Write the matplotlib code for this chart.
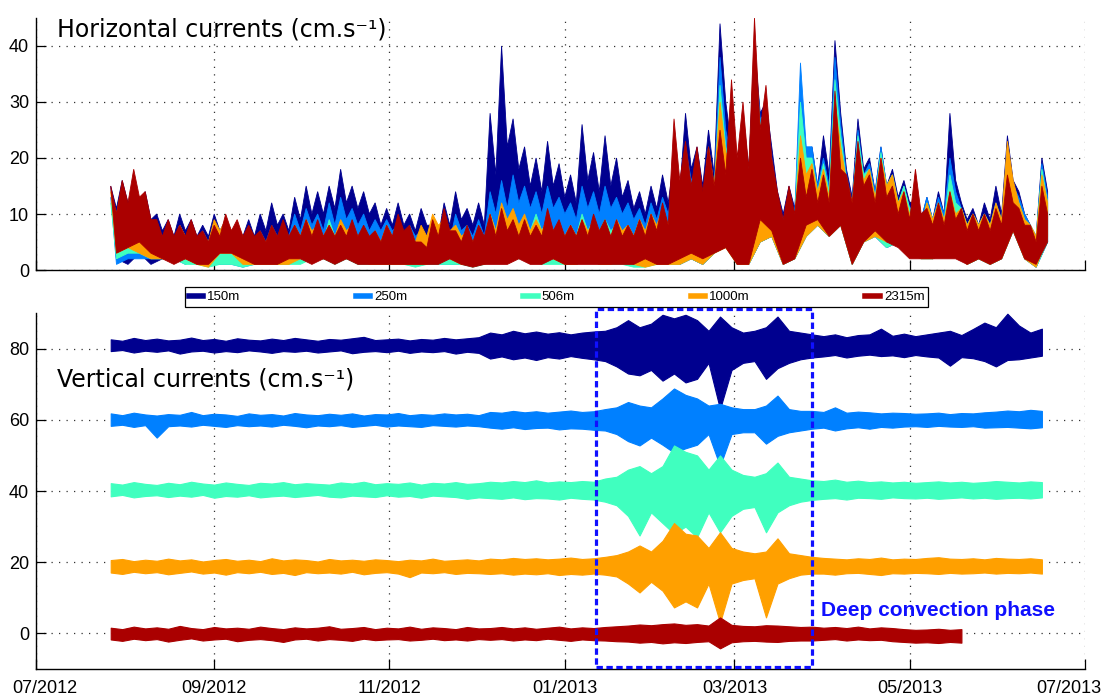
import numpy as np
import matplotlib
matplotlib.use('Agg')
import matplotlib.pyplot as plt
import matplotlib.dates as mdates
import matplotlib.transforms as mtransforms
from matplotlib.patches import Rectangle
from matplotlib.lines import Line2D

depths = ['150m', '250m', '506m', '1000m', '2315m']
colors = ['#00008F', '#0080FF', '#40FFBF', '#FFA000', '#AA0000']

# mooring record, summarised in 4-day windows from 27 Jul 2012
start = np.datetime64('2012-07-27')

# horizontal current speed (cm/s): window peak, top of the dense band, window low
h150_hi = [15, 16, 14, 14, 10, 9, 10, 9, 8, 10,
           9, 8, 9, 10, 12, 10, 13, 15, 14, 15,
           18, 15, 14, 12, 11, 12, 10, 11, 8, 12,
           14, 11, 12, 28, 40, 27, 22, 20, 23, 19,
           17, 26, 21, 24, 20, 16, 14, 15, 17, 20,
           28, 22, 25, 44, 22, 28, 40, 30, 14, 15,
           25, 22, 24, 41, 18, 27, 20, 22, 18, 16,
           12, 13, 14, 28, 12, 11, 12, 15, 24, 14,
           8, 20]
h150_mid = [11, 12, 11, 9, 7, 6, 7, 6, 6, 7,
            6, 6, 6, 7, 8, 7, 9, 10, 10, 11,
            12, 11, 10, 8, 8, 8, 7, 8, 6, 8,
            9, 8, 8, 17, 22, 18, 15, 14, 15, 13,
            12, 16, 14, 15, 13, 11, 10, 11, 12, 14,
            18, 15, 17, 30, 15, 18, 28, 22, 10, 11,
            17, 15, 17, 28, 13, 18, 14, 15, 13, 12,
            9, 9, 10, 16, 9, 8, 9, 10, 16, 10,
            6, 14]
h150_lo = [2, 1, 3, 1, 2, 3, 2, 3, 2, 1,
           2, 1, 2, 1, 2, 2, 2, 3, 2, 3,
           2, 3, 2, 1, 1, 2, 1, 1, 2, 2,
           1, 1, 1, 3, 4, 4, 3, 2, 2, 2,
           1, 2, 2, 1, 2, 2, 1, 1, 2, 1,
           2, 1, 3, 5, 1, 1, 5, 6, 1, 2,
           6, 8, 6, 8, 1, 5, 6, 4, 5, 4,
           3, 2, 3, 4, 1, 2, 1, 2, 7, 2,
           0.5, 5]
h250_hi = [13, 15, 12, 11, 8, 7, 8, 7, 7, 8,
           7, 6, 7, 7, 8, 8, 10, 11, 10, 12,
           13, 11, 10, 9, 9, 8, 8, 7, 9, 7,
           10, 8, 9, 14, 16, 17, 15, 14, 15, 13,
           12, 15, 14, 15, 13, 12, 11, 12, 13, 16,
           22, 18, 20, 38, 20, 25, 40, 28, 12, 13,
           37, 22, 20, 38, 17, 25, 19, 22, 17, 15,
           12, 13, 13, 20, 11, 10, 10, 12, 22, 13,
           8, 19]
h250_mid = [9, 10, 9, 8, 6, 5, 6, 5, 5, 6,
            5, 5, 5, 5, 6, 6, 7, 8, 7, 8,
            9, 8, 7, 7, 7, 6, 6, 5, 6, 5,
            7, 6, 6, 10, 11, 12, 11, 10, 11, 10,
            9, 11, 10, 11, 10, 9, 8, 9, 10, 12,
            16, 13, 15, 25, 14, 18, 27, 20, 9, 10,
            22, 15, 15, 26, 12, 17, 14, 15, 12, 11,
            9, 9, 10, 14, 8, 8, 8, 9, 15, 10,
            6, 13]
h250_lo = [1, 2, 2, 2, 2, 2, 1, 2, 1, 1,
           1, 0.5, 1, 2, 1, 1, 2, 2, 2, 2,
           2, 2, 1, 1, 1, 1, 1, 1, 1, 1,
           1, 1, 1, 2, 2, 3, 2, 2, 2, 1,
           1, 2, 1, 1, 2, 1, 1, 1, 1, 1,
           2, 1, 3, 5, 1, 1, 5, 6, 1, 2,
           6, 8, 6, 8, 1, 5, 6, 4, 5, 3,
           2, 2, 3, 3, 1, 2, 1, 2, 7, 2,
           0.5, 5]
h506_hi = [12, 13, 11, 9, 7, 6, 7, 6, 5, 6,
           7, 6, 6, 5, 6, 6, 7, 8, 7, 9,
           8, 7, 7, 6, 7, 6, 7, 6, 7, 6,
           8, 6, 7, 10, 11, 10, 9, 10, 9, 8,
           8, 10, 9, 9, 8, 8, 9, 9, 10, 14,
           20, 16, 19, 33, 18, 24, 38, 27, 11, 12,
           30, 20, 19, 34, 16, 24, 18, 21, 17, 15,
           11, 12, 12, 17, 11, 10, 10, 11, 21, 12,
           8, 18]
h506_mid = [8, 9, 8, 7, 5, 5, 5, 5, 4, 5,
            5, 5, 5, 4, 5, 5, 5, 6, 5, 6,
            6, 5, 5, 5, 5, 5, 5, 5, 5, 5,
            6, 5, 5, 7, 8, 7, 7, 7, 7, 6,
            6, 7, 7, 7, 6, 6, 6, 7, 7, 10,
            14, 12, 14, 22, 13, 17, 26, 19, 8, 9,
            20, 14, 14, 24, 12, 17, 13, 15, 12, 11,
            8, 9, 9, 12, 8, 8, 8, 8, 15, 9,
            6, 12]
h506_lo = [2, 3, 3, 2, 2, 2, 1, 1, 0.5, 1,
           1, 0.5, 1, 1, 1, 1, 1, 2, 2, 1,
           2, 1, 1, 1, 1, 1, 0.5, 1, 1, 1,
           1, 0.5, 1, 2, 2, 2, 2, 1, 1, 1,
           1, 2, 1, 1, 1, 0.5, 0.5, 1, 1, 1,
           2, 1, 3, 4, 1, 1, 5, 6, 1, 2,
           6, 8, 6, 8, 1, 5, 6, 4, 5, 3,
           2, 2, 3, 3, 1, 2, 1, 2, 7, 2,
           0.5, 5]
h1000_hi = [14, 15, 13, 10, 7, 7, 8, 7, 6, 9,
            9, 8, 6, 6, 7, 7, 8, 9, 8, 8,
            9, 8, 7, 7, 8, 7, 6, 8, 10, 9,
            8, 7, 6, 10, 12, 11, 10, 9, 9, 8,
            8, 9, 8, 8, 9, 8, 9, 10, 11, 14,
            20, 17, 22, 30, 19, 24, 36, 26, 11, 12,
            24, 19, 18, 30, 16, 22, 18, 20, 17, 14,
            11, 12, 12, 14, 11, 10, 10, 12, 23, 12,
            8, 17]
h1000_mid = [10, 11, 10, 8, 5, 5, 6, 5, 5, 7,
             7, 6, 5, 5, 5, 5, 6, 7, 6, 6,
             7, 6, 5, 5, 6, 5, 5, 6, 8, 7,
             6, 5, 5, 7, 9, 8, 7, 7, 7, 6,
             6, 7, 6, 6, 7, 6, 7, 8, 8, 10,
             14, 12, 15, 21, 14, 17, 25, 19, 8, 9,
             17, 14, 13, 22, 12, 16, 13, 15, 12, 10,
             8, 9, 9, 10, 8, 8, 8, 9, 16, 9,
             6, 12]
h1000_lo = [3, 4, 3, 2, 2, 2, 2, 1, 0.5, 3,
            3, 1, 1, 1, 1, 1, 2, 2, 2, 2,
            2, 2, 1, 1, 1, 1, 1, 1, 2, 2,
            1, 1, 1, 3, 3, 3, 2, 2, 2, 1,
            1, 2, 1, 1, 2, 1, 0.5, 1, 1, 1,
            2, 1, 3, 4, 1, 1, 5, 6, 1, 2,
            6, 8, 6, 8, 1, 5, 6, 5, 5, 3,
            2, 2, 3, 3, 1, 2, 1, 2, 7, 2,
            0.5, 6]
h2315_hi = [15, 16, 18, 14, 9, 9, 8, 9, 7, 8,
            10, 9, 8, 7, 8, 9, 8, 9, 9, 8,
            8, 9, 8, 7, 8, 10, 8, 5, 9, 11,
            7, 8, 8, 10, 11, 9, 9, 8, 11, 9,
            8, 9, 10, 9, 9, 8, 9, 10, 12, 27,
            23, 22, 22, 25, 34, 30, 45, 33, 14, 15,
            20, 18, 17, 32, 17, 23, 17, 20, 15, 14,
            18, 11, 12, 14, 11, 10, 10, 11, 17, 11,
            8, 15]
h2315_mid = [10, 12, 13, 9, 6, 6, 6, 6, 5, 6,
             7, 6, 6, 5, 6, 6, 6, 6, 6, 6,
             6, 6, 6, 5, 6, 7, 5, 4, 6, 7,
             5, 5, 6, 6, 7, 6, 6, 6, 7, 6,
             6, 6, 7, 6, 6, 6, 6, 7, 8, 16,
             15, 14, 15, 17, 20, 18, 25, 20, 9, 10,
             13, 12, 12, 18, 12, 15, 12, 13, 10, 9,
             10, 8, 8, 9, 7, 7, 7, 8, 12, 8,
             5, 10]
h2315_lo = [3, 4, 5, 3, 2, 1, 2, 1, 1, 3,
            3, 2, 1, 1, 1, 2, 2, 1, 2, 1,
            2, 1, 1, 1, 1, 1, 1, 1, 1, 2,
            1, 0.5, 1, 1, 1, 2, 1, 1, 2, 1,
            1, 1, 1, 1, 1, 1, 2, 1, 1, 2,
            3, 2, 3, 4, 1, 1, 9, 7, 1, 2,
            8, 9, 6, 8, 1, 5, 7, 5, 4, 2,
            2, 2, 2, 2, 1, 2, 1, 2, 7, 2,
            1, 5]

# vertical current (cm/s), each depth shifted by 80/60/40/20/0
v150_hi = [82.6, 82.2, 83.0, 82.4, 82.8, 82.3, 82.5, 83.1, 82.4, 82.7,
           82.2, 82.9, 82.5, 82.3, 82.8, 82.4, 83.0, 82.6, 82.2, 82.7,
           82.5, 82.9, 83.3, 82.4, 82.6, 82.8, 82.3, 82.7, 82.5, 83.0,
           82.6, 82.9, 83.2, 84.5, 84.0, 85.0, 84.3, 84.8, 84.2, 84.6,
           84.0, 84.5, 84.8, 85.0, 86.0, 88.0, 86.0, 87.0, 89.5, 88.5,
           89.5, 88.0, 85.0, 89.0, 86.0, 84.5, 85.0, 86.0, 89.0, 85.0,
           84.5, 84.0, 83.5, 84.0, 83.2, 83.8, 84.0, 85.6, 83.6, 84.2,
           83.5, 84.0, 84.5, 85.0, 83.8, 85.5, 87.3, 86.0, 89.8, 86.5,
           84.5, 85.6]
v150_lo = [79.3, 79.6, 78.9, 79.4, 79.1, 79.5, 78.6, 79.2, 79.4, 78.9,
           79.3, 79.0, 79.5, 79.2, 78.8, 79.3, 79.1, 79.4, 78.9, 79.2,
           79.5, 78.7, 79.1, 79.3, 79.0, 79.4, 78.8, 79.2, 79.0, 79.3,
           78.6, 79.1, 78.8, 77.2, 77.8, 77.0, 77.5, 76.8, 77.6, 77.2,
           77.9, 77.4, 77.0, 76.5, 75.0, 73.0, 72.5, 74.0, 71.0, 73.0,
           70.5, 71.5, 76.0, 63.0, 74.0, 76.0, 76.5, 71.5, 74.5, 76.0,
           77.0, 77.5, 77.8, 78.2, 77.5, 78.0, 78.3, 77.9, 78.1, 77.6,
           78.2, 77.8, 77.5, 75.2, 77.6, 77.3, 76.5, 75.0, 76.8, 77.0,
           77.5, 78.0]
v250_hi = [61.8, 61.3, 62.0, 61.5, 61.2, 61.6, 61.4, 62.2, 61.3, 61.7,
           61.5, 61.1, 61.8, 61.4, 61.6, 61.2, 61.9, 61.5, 61.3, 61.7,
           61.4, 61.8, 61.2, 61.6, 61.5, 61.9, 61.3, 61.6, 61.4, 61.8,
           61.5, 61.7, 61.3, 62.2, 62.0, 62.5, 62.1, 62.4, 62.0, 62.3,
           62.6, 62.2, 62.4, 63.0, 63.5, 65.0, 64.0, 63.5, 66.0, 68.8,
           67.0, 66.0, 64.0, 64.5, 63.5, 63.0, 63.0, 64.0, 66.8, 63.0,
           62.5, 62.5, 62.2, 63.5, 62.0, 62.3, 62.1, 61.8, 62.0, 61.9,
           61.7, 61.8, 62.0, 61.6, 61.9, 61.8, 62.1, 62.3, 62.6, 62.4,
           62.8, 62.5]
v250_lo = [58.3, 58.6, 58.0, 58.5, 55.0, 58.2, 58.4, 58.1, 58.6, 58.3,
           58.0, 58.5, 58.2, 58.4, 58.1, 58.6, 58.3, 57.9, 58.4, 58.2,
           58.5, 58.0, 58.3, 58.6, 58.1, 58.4, 58.2, 58.0, 58.5, 58.3,
           58.1, 58.4, 58.2, 57.8, 57.5, 57.9, 57.4, 57.7, 57.8, 57.3,
           57.6, 57.5, 57.2, 57.0, 56.0, 54.0, 52.8, 55.0, 53.0, 50.8,
           52.0, 53.0, 56.0, 47.0, 56.0, 56.5, 56.5, 53.3, 55.5, 56.5,
           57.0, 57.5, 57.8, 57.0, 57.6, 57.9, 57.5, 58.0, 57.8, 58.1,
           58.2, 58.0, 58.3, 58.1, 58.0, 58.2, 57.8, 57.9, 58.0, 57.8,
           57.6, 57.9]
v506_hi = [42.2, 41.8, 42.5, 42.0, 41.7, 42.3, 41.9, 42.6, 42.1, 41.8,
           42.4, 42.0, 41.7, 42.3, 42.1, 42.5, 41.9, 42.2, 42.0, 41.8,
           42.4, 42.1, 42.6, 41.9, 42.2, 42.0, 42.4, 41.8, 42.3, 42.1,
           42.5, 42.0, 42.2, 42.6, 42.4, 42.8, 42.5, 43.0, 42.4, 42.7,
           42.5, 42.8, 42.6, 43.5, 44.0, 46.0, 47.0, 45.0, 47.0, 52.8,
           51.0, 50.0, 46.0, 50.0, 46.0, 44.5, 44.0, 45.0, 48.0, 44.0,
           43.5, 43.0, 42.8, 43.2, 42.6, 42.9, 42.5, 42.7, 42.4, 42.6,
           42.3, 42.5, 42.7, 42.4, 42.6, 42.3, 42.5, 42.8, 42.6, 42.4,
           42.7, 42.5]
v506_lo = [38.5, 38.9, 38.2, 38.6, 38.8, 38.3, 38.7, 38.4, 38.9, 38.1,
           38.6, 38.4, 38.8, 38.2, 38.5, 38.7, 38.3, 38.6, 38.9, 38.4,
           38.2, 38.7, 38.5, 38.3, 38.8, 38.4, 38.6, 38.1, 38.7, 38.5,
           38.3, 37.8, 38.2, 38.0, 37.8, 38.2, 37.7, 38.0, 37.9, 37.6,
           38.1, 37.8, 37.6, 37.0, 36.0, 33.0, 27.5, 34.0, 31.0, 28.0,
           30.0, 27.0, 34.0, 28.4, 33.0, 35.0, 35.5, 28.4, 34.0, 36.0,
           37.0, 37.5, 37.8, 38.0, 37.6, 38.1, 38.0, 37.8, 38.2, 38.0,
           37.9, 38.1, 37.8, 38.0, 38.2, 37.9, 38.1, 37.8, 38.0, 38.1,
           37.9, 38.2]
v1000_hi = [20.6, 20.9, 20.3, 20.7, 20.4, 21.0, 20.5, 20.8, 20.2, 20.6,
            20.9, 20.4, 20.7, 20.3, 21.1, 20.5, 20.8, 20.6, 20.2, 20.9,
            20.5, 20.7, 20.4, 20.8, 20.6, 20.3, 20.7, 20.5, 21.0, 20.4,
            20.6, 20.8, 20.5, 21.0, 20.8, 21.2, 20.9, 21.1, 20.8, 21.0,
            21.3, 20.9, 21.1, 21.5, 22.0, 23.0, 24.7, 23.0, 26.0, 31.0,
            28.0, 27.5, 24.0, 28.4, 24.0, 23.0, 22.5, 23.0, 26.7, 22.5,
            22.0, 21.5, 21.2, 21.0, 20.8, 21.1, 20.9, 21.3, 20.8, 21.0,
            20.9, 21.2, 21.4, 21.0, 20.9, 21.1, 20.8, 21.2, 21.0, 20.9,
            21.1, 20.8]
v1000_lo = [17.1, 16.7, 17.3, 16.9, 17.2, 16.6, 17.0, 17.4, 16.8, 17.1,
            16.5, 17.2, 16.9, 17.3, 16.7, 17.0, 16.4, 17.2, 16.9, 17.1,
            16.8, 17.3, 16.6, 17.0, 17.2, 16.8, 15.8, 17.1, 16.9, 17.2,
            16.7, 17.0, 16.9, 16.7, 16.9, 16.5, 16.8, 16.6, 16.9, 16.4,
            16.7, 16.5, 16.8, 16.5, 16.0, 14.0, 11.5, 14.5, 12.0, 7.3,
            9.0, 7.3, 14.0, 3.0, 14.0, 15.0, 15.5, 4.5, 14.0, 15.5,
            16.5, 16.8, 16.8, 16.5, 16.9, 17.0, 16.7, 16.4, 16.9, 16.8,
            17.0, 16.9, 16.7, 17.0, 16.8, 16.9, 17.1, 16.8, 17.0, 16.9,
            17.1, 16.8]
v2315_hi = [1.6, 1.2, 1.9, 1.4, 1.7, 1.3, 2.1, 1.5, 1.2, 1.8,
            1.4, 1.6, 1.3, 1.9, 1.5, 1.2, 1.7, 1.4, 1.6, 2.0,
            1.3, 1.5, 1.8, 1.2, 1.6, 1.4, 1.9, 1.3, 1.7, 1.5,
            1.2, 1.8, 1.4, 1.5, 1.8, 1.4, 1.7, 1.3, 1.6, 1.9,
            1.4, 1.7, 1.5, 1.8, 2.0, 2.2, 2.5, 2.3, 2.6, 2.8,
            2.4, 2.6, 2.2, 4.5, 2.4, 2.1, 2.0, 2.3, 2.2, 2.0,
            1.8, 1.9, 1.6, 1.8, 1.5, 1.9, 1.4, 1.7, 1.5, 1.2,
            1.0, 1.1, 1.3, 1.0, 1.2]
v2315_lo = [-1.7, -2.1, -1.5, -1.9, -1.6, -2.3, -1.8, -1.4, -2.0, -1.7,
            -1.5, -2.2, -1.8, -1.6, -1.9, -2.4, -1.7, -1.5, -2.0, -1.6,
            -1.8, -2.1, -1.5, -1.9, -1.7, -1.6, -2.0, -1.8, -1.5, -1.9,
            -1.7, -2.0, -1.6, -1.8, -1.6, -2.0, -1.7, -1.9, -1.5, -1.8,
            -2.1, -1.7, -1.9, -2.0, -2.2, -2.3, -2.6, -2.4, -2.8, -2.5,
            -2.7, -2.4, -2.2, -4.2, -2.5, -2.2, -2.1, -2.3, -2.4, -2.1,
            -2.0, -2.0, -1.8, -1.6, -2.0, -1.7, -1.9, -1.8, -2.2, -2.4,
            -2.6, -2.5, -2.7, -2.4, -2.6]

horizontal = [(h150_hi, h150_mid, h150_lo), (h250_hi, h250_mid, h250_lo),
              (h506_hi, h506_mid, h506_lo), (h1000_hi, h1000_mid, h1000_lo),
              (h2315_hi, h2315_mid, h2315_lo)]
vertical = [(v150_hi, v150_lo), (v250_hi, v250_lo), (v506_hi, v506_lo),
            (v1000_hi, v1000_lo), (v2315_hi, v2315_lo)]

convection = (np.datetime64('2013-01-12'), np.datetime64('2013-03-28'))

day = np.timedelta64(1, 'D')


def spiky_band(ax, hi, mid, lo, color):
    # peak at the start of each window, band top and low two days later
    n = len(hi)
    t_peak = start + np.arange(n) * 4 * day
    t_low = t_peak + 2 * day
    t_top = np.column_stack([t_peak, t_low]).ravel()
    top = np.column_stack([hi, mid]).ravel()
    xs = mdates.date2num(np.concatenate([t_top, t_low[::-1]]))
    ys = np.concatenate([top, np.asarray(lo)[::-1]])
    ax.fill(xs, ys, facecolor=color, edgecolor=color, lw=0.6)


def band(ax, hi, lo, color):
    t = start + np.arange(len(hi)) * 4 * day
    ax.fill_between(t, lo, hi, facecolor=color, edgecolor=color, lw=0.8)


tick_font = ['Liberation Sans', 'DejaVu Sans']
grid_style = dict(linestyle=(0, (1, 5)), color='0.2', linewidth=0.9)

fig = plt.figure(figsize=(11.02, 6.97), dpi=100)
ax1 = fig.add_axes([36 / 1102, 1 - 270 / 697, 1049 / 1102, 252 / 697])
ax2 = fig.add_axes([36 / 1102, 28 / 697, 1049 / 1102, 356 / 697])

for (hi, mid, lo), c in zip(horizontal, colors):
    spiky_band(ax1, hi, mid, lo, c)

for (hi, lo), c in zip(vertical, colors):
    band(ax2, hi, lo, c)

for ax in (ax1, ax2):
    ax.set_xlim(np.datetime64('2012-07-01'), np.datetime64('2013-07-01'))
    ax.xaxis.set_major_locator(mdates.MonthLocator(bymonth=[1, 3, 5, 7, 9, 11]))
    ax.xaxis.set_major_formatter(mdates.DateFormatter('%m/%Y'))
    ax.spines['top'].set_visible(False)
    ax.spines['right'].set_visible(False)
    ax.spines['left'].set_linewidth(1.0)
    ax.spines['bottom'].set_linewidth(1.0)
    ax.tick_params(direction='in', length=7, width=0.9, labelsize=13, pad=5)
    ax.grid(True, **grid_style)
    ax.set_axisbelow(True)
    for lab in ax.get_xticklabels() + ax.get_yticklabels():
        lab.set_family(tick_font)

ax1.set_ylim(0, 45)
ax1.set_yticks([0, 10, 20, 30, 40])
ax1.tick_params(labelbottom=False)

ax2.set_ylim(-10, 90)
ax2.set_yticks([0, 20, 40, 60, 80])
ax2.tick_params(axis='x', pad=8)

# keep the outer date labels inside the figure
xlabels = ax2.get_xticklabels()
xlabels[0].set_transform(xlabels[0].get_transform() +
                         mtransforms.ScaledTranslation(9 / 100, 0, fig.dpi_scale_trans))
xlabels[-1].set_transform(xlabels[-1].get_transform() +
                          mtransforms.ScaledTranslation(-16 / 100, 0, fig.dpi_scale_trans))

fig.text(57 / 1102, 1 - 36 / 697, 'Horizontal currents (cm.s\u207b\u00b9)',
         fontsize=17, family='DejaVu Sans', va='baseline')
fig.text(57 / 1102, 1 - 386 / 697, 'Vertical currents (cm.s\u207b\u00b9)',
         fontsize=17, family='DejaVu Sans', va='baseline')

# deep convection window
x0 = mdates.date2num(convection[0])
x1 = mdates.date2num(convection[1])
ax2.add_patch(Rectangle((x0, -9.5), x1 - x0, 100.5, fill=False,
                        edgecolor='#1010FF', linewidth=2.3,
                        linestyle=(0, (2, 1.1)), clip_on=False, zorder=5))
ax2.text(np.datetime64('2013-03-31'), 4.8, 'Deep convection phase',
         color='#1010FF', fontsize=15, fontweight='bold',
         family=['Liberation Sans', 'DejaVu Sans'], va='baseline')

handles = [Line2D([], [], color=c, lw=4) for c in colors]
leg = fig.legend(handles, depths, loc='center', ncol=5, mode='expand',
                 bbox_to_anchor=(178 / 1102, 1 - 308 / 697, 757 / 1102, 22 / 697),
                 fancybox=False, edgecolor='black', handlelength=1.1,
                 handletextpad=0.3, borderpad=0.3, framealpha=1,
                 prop={'family': tick_font, 'size': 9.5})
leg.get_frame().set_linewidth(0.9)

fig.savefig('out.png', dpi=100)
